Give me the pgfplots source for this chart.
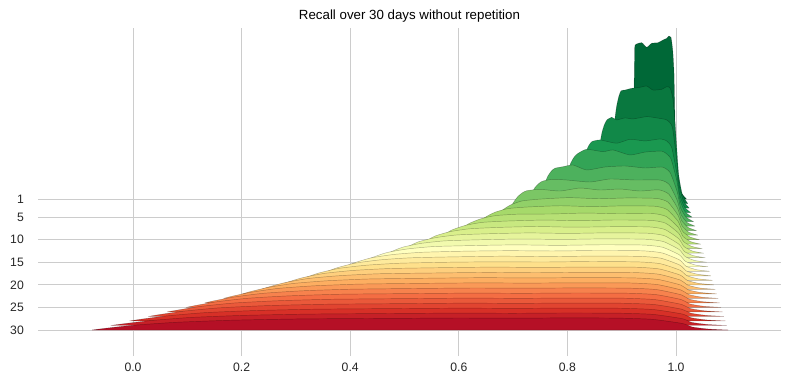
\documentclass[border=0pt]{standalone}
\usepackage{pgfplots}
\pgfplotsset{compat=1.18}
\usepackage{fontspec}
\setmainfont{Liberation Sans}
\definecolor{c0}{HTML}{006837}
\definecolor{c1}{HTML}{1A9850}
\definecolor{c2}{HTML}{66BD63}
\definecolor{c3}{HTML}{A6D96A}
\definecolor{c4}{HTML}{D9EF8B}
\definecolor{c5}{HTML}{FFFFBF}
\definecolor{c6}{HTML}{FEE08B}
\definecolor{c7}{HTML}{FDAE61}
\definecolor{c8}{HTML}{F46D43}
\definecolor{c9}{HTML}{D73027}
\definecolor{c10}{HTML}{A50026}
\colorlet{r1}{c0}
\colorlet{r2}{c1!33!c0}
\colorlet{r3}{c1!67!c0}
\colorlet{r4}{c1}
\colorlet{r5}{c2!33!c1}
\colorlet{r6}{c2!67!c1}
\colorlet{r7}{c2}
\colorlet{r8}{c3!33!c2}
\colorlet{r9}{c3!67!c2}
\colorlet{r10}{c3}
\colorlet{r11}{c4!33!c3}
\colorlet{r12}{c4!67!c3}
\colorlet{r13}{c4}
\colorlet{r14}{c5!33!c4}
\colorlet{r15}{c5!67!c4}
\colorlet{r16}{c5}
\colorlet{r17}{c6!33!c5}
\colorlet{r18}{c6!67!c5}
\colorlet{r19}{c6}
\colorlet{r20}{c7!33!c6}
\colorlet{r21}{c7!67!c6}
\colorlet{r22}{c7}
\colorlet{r23}{c8!33!c7}
\colorlet{r24}{c8!67!c7}
\colorlet{r25}{c8}
\colorlet{r26}{c9!33!c8}
\colorlet{r27}{c9!67!c8}
\colorlet{r28}{c9}
\colorlet{r29}{c10!33!c9}
\colorlet{r30}{c10!67!c9}
\pgfplotsset{ridge/.style 2 args={fill=#1, draw=black, draw opacity=0.3, line width=0.45pt, line join=round, smooth, tension=0.35, y filter/.expression={y+#2}}}
\begin{document}
\begin{tikzpicture}
\begin{axis}[
  scale only axis, width=743pt, height=328pt,
  xmin=-0.17495, xmax=1.19337, ymin=28, ymax=356,
  clip=false,
  axis line style={draw=none},
  major tick length=0pt,
  grid=major,
  major grid style={draw=black!20, line width=0.9pt},
  xtick={0,0.2,0.4,0.6,0.8,1.0},
  xticklabels={0.0,0.2,0.4,0.6,0.8,1.0},
  ytick={185,166.93,144.35,121.76,99.17,76.59,54.00},
  yticklabels={1,5,10,15,20,25,30},
  ticklabel style={font=\fontsize{12.2}{14}\selectfont, text=black!85},
  xticklabel style={inner sep=0pt, anchor=base, yshift=-15.4pt},
  yticklabel style={inner sep=0pt, anchor=east, xshift=-14pt},
  title={Recall over 30 days without repetition},
  title style={font=\fontsize{13.3}{15}\selectfont, inner sep=0pt, anchor=base, at={(0.5,1)}, yshift=2.2pt},
]
\addplot[ridge={r1}{185.00}] coordinates {(0.918,0) (0.921,60) (0.9228,111) (0.9238,145) (0.9248,154) (0.9368,156.3) (0.946,151.7) (0.9552,155.7) (0.9669,156.3) (0.9761,159) (0.9829,160.7) (0.9871,163) (0.9908,161.7) (0.9939,149) (0.9963,126) (0.9982,76) (1.0009,29) (1.0064,9) (1.0193,0)} -- cycle;
\addplot[ridge={r2}{180.48}] coordinates {(0.8614,0) (0.8656,2.3) (0.8738,18.4) (0.878,35.7) (0.8821,57.5) (0.8863,79.4) (0.8904,96.6) (0.8946,107) (0.8987,112.7) (0.9061,113.5) (0.9184,115.2) (0.9337,116.2) (0.946,117.5) (0.9576,113.5) (0.9736,114.2) (0.9828,116.8) (0.989,115.5) (0.9946,103.5) (1.0004,63) (1.0049,29) (1.0117,9) (1.0217,0)} -- cycle;
\addplot[ridge={r3}{175.97}] coordinates {(0.8315,0) (0.8361,1.8) (0.8453,14.4) (0.8499,27.9) (0.8545,45) (0.8591,62) (0.8637,75.6) (0.8683,83.7) (0.8729,88.2) (0.8779,89.8) (0.8816,90.8) (0.8908,88.1) (0.9061,90.1) (0.9208,89.1) (0.946,91.4) (0.9645,90.1) (0.9828,88.1) (0.9932,81) (1.0008,49.5) (1.0058,22.5) (1.0135,7.2) (1.0243,0)} -- cycle;
\addplot[ridge={r4}{171.45}] coordinates {(0.7956,0) (0.8011,1.5) (0.8122,11.6) (0.8177,22.5) (0.8232,36.3) (0.8287,50) (0.8343,60.9) (0.8398,67.4) (0.8453,71) (0.86,72.6) (0.8908,69.3) (0.9153,73.3) (0.9429,71.6) (0.9705,73.6) (0.9817,72) (0.9919,65.3) (1.0012,39.9) (1.0067,18.1) (1.0152,5.8) (1.027,0)} -- cycle;
\addplot[ridge={r5}{166.93}] coordinates {(0.7615,0) (0.768,1.3) (0.7808,10.4) (0.7873,20.2) (0.7937,32.5) (0.8002,44.9) (0.8066,54.6) (0.8131,60.5) (0.8195,63.7) (0.8355,67.8) (0.8656,65.4) (0.884,67.1) (0.9153,62.1) (0.9429,65) (0.9705,66) (0.9782,65) (0.9905,58.5) (1.0017,35.8) (1.0076,16.3) (1.0169,5.2) (1.0296,0)} -- cycle;
\addplot[ridge={r6}{162.41}] coordinates {(0.7192,0) (0.7256,1.1) (0.7385,8.7) (0.7449,16.9) (0.7514,27.3) (0.7578,37.6) (0.7643,45.8) (0.7707,50.7) (0.7772,53.4) (0.7919,54.9) (0.8103,56.6) (0.8355,51.6) (0.8692,54.6) (0.9061,55.6) (0.9429,53.6) (0.9748,54.5) (0.9891,49) (1.0021,30) (1.0085,13.6) (1.0186,4.4) (1.0323,0)} -- cycle;
\addplot[ridge={r7}{157.90}] coordinates {(0.6888,0) (0.6961,0.9) (0.7109,7.4) (0.7182,14.3) (0.7256,23) (0.733,31.7) (0.7403,38.6) (0.7477,42.8) (0.7551,45.1) (0.7735,46.8) (0.7987,46.1) (0.8416,44.1) (0.8785,47.1) (0.9245,46.1) (0.9713,46) (0.9877,41.4) (1.0025,25.3) (1.0094,11.5) (1.0203,3.7) (1.0349,0)} -- cycle;
\addplot[ridge={r8}{153.38}] coordinates {(0.651,0) (0.6593,0.8) (0.6759,6.5) (0.6842,12.6) (0.6924,20.4) (0.7007,28.2) (0.709,34.3) (0.7173,37.9) (0.7256,40) (0.7495,41.3) (0.7864,39.6) (0.8232,42.6) (0.86,40.6) (0.8969,41.6) (0.9337,39.6) (0.9679,40.8) (0.9863,36.7) (1.0029,22.4) (1.0103,10.2) (1.0221,3.3) (1.0376,0)} -- cycle;
\addplot[ridge={r9}{148.86}] coordinates {(0.6516,0) (0.6559,5.5) (0.6646,14.7) (0.6776,23.9) (0.6949,30.1) (0.7165,34.2) (0.749,36.0) (0.803,37.5) (0.857,36.4) (0.911,37.2) (0.9644,36.7) (0.985,33.1) (1.0033,20.2) (1.0112,9.2) (1.0238,2.9) (1.0402,0)} -- cycle;
\addplot[ridge={r10}{144.35}] coordinates {(0.6169,0) (0.6219,5.0) (0.6318,13.4) (0.6467,21.7) (0.6665,27.4) (0.6914,31.1) (0.7286,32.7) (0.787,33.9) (0.845,33.0) (0.903,33.8) (0.961,33.4) (0.9836,30.1) (1.0037,18.4) (1.0121,8.4) (1.0255,2.7) (1.0429,0)} -- cycle;
\addplot[ridge={r11}{139.83}] coordinates {(0.5823,0) (0.5879,4.6) (0.5992,12.3) (0.6162,19.9) (0.6388,25.1) (0.667,28.5) (0.7094,30.0) (0.771,30.2) (0.833,31.1) (0.895,30.4) (0.9575,30.6) (0.9822,27.6) (1.0041,16.9) (1.013,7.7) (1.0272,2.5) (1.0455,0)} -- cycle;
\addplot[ridge={r12}{135.31}] coordinates {(0.5477,0) (0.5541,4.2) (0.5668,11.3) (0.5859,18.4) (0.6113,23.2) (0.6431,26.3) (0.6908,27.7) (0.757,28.6) (0.822,28.0) (0.888,28.7) (0.9541,28.3) (0.9808,25.5) (1.0046,15.6) (1.0139,7.1) (1.029,2.3) (1.0482,0)} -- cycle;
\addplot[ridge={r13}{130.79}] coordinates {(0.5131,0) (0.5202,3.9) (0.5345,10.5) (0.5558,17.1) (0.5843,21.6) (0.6199,24.4) (0.6733,25.8) (0.743,26.7) (0.812,26.0) (0.881,26.5) (0.9506,26.3) (0.9795,23.7) (1.005,14.5) (1.0148,6.6) (1.0307,2.1) (1.0509,0)} -- cycle;
\addplot[ridge={r14}{126.28}] coordinates {(0.4785,0) (0.4864,3.7) (0.5022,9.8) (0.526,16.0) (0.5577,20.1) (0.5972,22.8) (0.6566,24.0) (0.729,24.8) (0.802,24.3) (0.875,24.9) (0.9472,24.5) (0.9781,22.1) (1.0054,13.5) (1.0157,6.1) (1.0324,2.0) (1.0535,0)} -- cycle;
\addplot[ridge={r15}{121.76}] coordinates {(0.4438,0) (0.4525,3.5) (0.47,9.2) (0.4963,15.0) (0.5312,18.9) (0.575,21.4) (0.6405,22.5) (0.716,23.2) (0.792,22.8) (0.868,23.4) (0.9437,23.0) (0.9767,20.7) (1.0058,12.7) (1.0166,5.8) (1.0341,1.8) (1.0562,0)} -- cycle;
\addplot[ridge={r16}{117.24}] coordinates {(0.4092,0) (0.4188,3.3) (0.4381,8.7) (0.4669,14.1) (0.5054,17.8) (0.5535,20.2) (0.6256,21.2) (0.704,21.9) (0.783,21.4) (0.862,22.0) (0.9403,21.7) (0.9753,19.5) (1.0062,11.9) (1.0174,5.4) (1.0359,1.7) (1.0588,0)} -- cycle;
\addplot[ridge={r17}{112.72}] coordinates {(0.3746,0) (0.3851,3.1) (0.4062,8.2) (0.4377,13.3) (0.4798,16.8) (0.5324,19.0) (0.6113,20.1) (0.693,20.6) (0.774,20.3) (0.856,20.8) (0.9368,20.5) (0.9739,18.4) (1.0066,11.3) (1.0183,5.1) (1.0376,1.6) (1.0615,0)} -- cycle;
\addplot[ridge={r18}{108.21}] coordinates {(0.34,0) (0.3515,2.9) (0.3744,7.8) (0.4088,12.6) (0.4547,15.9) (0.5121,18.0) (0.5981,19.0) (0.682,19.6) (0.766,19.2) (0.85,19.7) (0.9334,19.4) (0.9726,17.5) (1.007,10.7) (1.0192,4.8) (1.0393,1.6) (1.0641,0)} -- cycle;
\addplot[ridge={r19}{103.69}] coordinates {(0.3053,0) (0.3178,2.8) (0.3427,7.4) (0.3801,12.0) (0.4299,15.1) (0.4922,17.1) (0.5857,18.1) (0.672,18.5) (0.758,18.3) (0.844,18.8) (0.9299,18.4) (0.9712,16.6) (1.0074,10.1) (1.0201,4.6) (1.041,1.5) (1.0668,0)} -- cycle;
\addplot[ridge={r20}{99.17}] coordinates {(0.2707,0) (0.2842,2.6) (0.3111,7.0) (0.3516,11.4) (0.4055,14.4) (0.4729,16.3) (0.574,17.2) (0.662,17.7) (0.75,17.4) (0.838,17.8) (0.9265,17.6) (0.9698,15.8) (1.0079,9.7) (1.021,4.4) (1.0428,1.4) (1.0695,0)} -- cycle;
\addplot[ridge={r21}{94.66}] coordinates {(0.2361,0) (0.2506,2.5) (0.2797,6.7) (0.3234,10.9) (0.3815,13.7) (0.4543,15.6) (0.5633,16.4) (0.653,16.9) (0.743,16.6) (0.833,17.0) (0.923,16.8) (0.9684,15.1) (1.0083,9.2) (1.0219,4.2) (1.0445,1.3) (1.0721,0)} -- cycle;
\addplot[ridge={r22}{90.14}] coordinates {(0.2015,0) (0.2171,2.4) (0.2484,6.4) (0.2953,10.4) (0.3578,13.1) (0.436,14.9) (0.5533,15.7) (0.645,16.2) (0.736,15.9) (0.828,16.3) (0.9196,16.0) (0.967,14.4) (1.0087,8.8) (1.0228,4.0) (1.0462,1.3) (1.0748,0)} -- cycle;
\addplot[ridge={r23}{85.62}] coordinates {(0.1669,0) (0.1837,2.3) (0.2172,6.1) (0.2676,10.0) (0.3347,12.6) (0.4186,14.3) (0.5444,15.1) (0.637,15.5) (0.73,15.3) (0.823,15.6) (0.9161,15.4) (0.9657,13.8) (1.0091,8.4) (1.0237,3.8) (1.0479,1.2) (1.0774,0)} -- cycle;
\addplot[ridge={r24}{81.10}] coordinates {(0.1322,0) (0.1501,2.2) (0.186,5.9) (0.2399,9.6) (0.3117,12.1) (0.4014,13.7) (0.536,14.5) (0.63,14.9) (0.724,14.7) (0.818,15.0) (0.9127,14.75) (0.9643,13.3) (1.0095,8.1) (1.0246,3.7) (1.0497,1.2) (1.0801,0)} -- cycle;
\addplot[ridge={r25}{76.59}] coordinates {(0.0976,0) (0.1168,2.1) (0.1551,5.7) (0.2126,9.2) (0.2893,11.6) (0.3851,13.2) (0.5288,13.9) (0.624,14.3) (0.719,14.1) (0.814,14.4) (0.9092,14.2) (0.9629,12.8) (1.0099,7.8) (1.0255,3.5) (1.0514,1.1) (1.0827,0)} -- cycle;
\addplot[ridge={r26}{72.07}] coordinates {(0.063,0) (0.0834,2.0) (0.1243,5.5) (0.1856,8.9) (0.2673,11.2) (0.3694,12.7) (0.5226,13.4) (0.618,13.8) (0.714,13.6) (0.81,13.9) (0.9058,13.7) (0.9615,12.3) (1.0103,7.5) (1.0264,3.4) (1.0531,1.1) (1.0854,0)} -- cycle;
\addplot[ridge={r27}{67.55}] coordinates {(0.0284,0) (0.0501,2.0) (0.0935,5.3) (0.1586,8.6) (0.2455,10.8) (0.354,12.2) (0.5168,12.9) (0.613,13.3) (0.71,13.1) (0.806,13.4) (0.9023,13.2) (0.9601,11.9) (1.0108,7.2) (1.0273,3.3) (1.0548,1.1) (1.088,0)} -- cycle;
\addplot[ridge={r28}{63.04}] coordinates {(-0.0063,0) (0.0167,1.9) (0.0628,5.1) (0.132,8.3) (0.2241,10.4) (0.3394,11.8) (0.5122,12.5) (0.608,12.8) (0.705,12.6) (0.802,12.9) (0.8989,12.7) (0.9588,11.4) (1.0112,7.0) (1.0282,3.2) (1.0566,1.0) (1.0907,0)} -- cycle;
\addplot[ridge={r29}{58.52}] coordinates {(-0.0409,0) (-0.0165,1.8) (0.0323,4.9) (0.1055,8.0) (0.2031,10.1) (0.3251,11.4) (0.5081,12.1) (0.605,12.4) (0.701,12.2) (0.798,12.5) (0.8954,12.3) (0.9574,11.1) (1.0116,6.8) (1.0291,3.1) (1.0583,1.0) (1.0933,0)} -- cycle;
\addplot[ridge={r30}{54.00}] coordinates {(-0.0755,0) (-0.0497,1.8) (0.0019,4.8) (0.0794,7.7) (0.1826,9.8) (0.3117,11.1) (0.5053,11.7) (0.602,12.0) (0.699,11.8) (0.795,12.1) (0.892,11.9) (0.956,10.7) (1.012,6.5) (1.03,3.0) (1.06,0.95) (1.096,0)} -- cycle;
\path (axis cs:-0.24494,0) rectangle (axis cs:1.21179,384);
\end{axis}
\end{tikzpicture}
\end{document}
